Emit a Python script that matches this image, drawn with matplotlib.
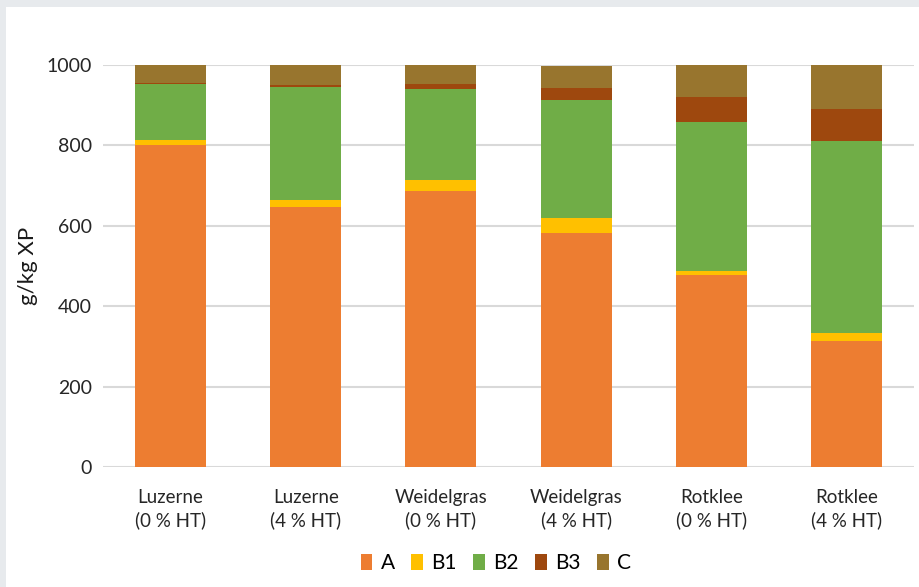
import matplotlib
matplotlib.use('Agg')
from matplotlib import pyplot as plt
from matplotlib.patches import Rectangle
import numpy as np

plt.rcParams['font.family'] = ['Lato', 'DejaVu Sans']

categories = ['Luzerne\n(0 % HT)', 'Luzerne\n(4 % HT)', 'Weidelgras\n(0 % HT)',
              'Weidelgras\n(4 % HT)', 'Rotklee\n(0 % HT)', 'Rotklee\n(4 % HT)']
fractions = ['A', 'B1', 'B2', 'B3', 'C']
a_vals = [800, 647, 687, 582, 477, 313]
b1_vals = [13, 17, 28, 37, 11, 20]
b2_vals = [140, 282, 225, 294, 369, 478]
b3_vals = [3, 4, 13, 31, 64, 79]
c_vals = [44, 50, 47, 54, 79, 110]
colors = ['#ED7D31', '#FFC000', '#70AD47', '#9E480E', '#98752e']

fig = plt.figure(figsize=(9.19, 5.87), dpi=100, facecolor='#e7eaed')
panel = Rectangle((6 / 919, 0), 1, 1 - 7 / 587, transform=fig.transFigure,
                  facecolor='white', edgecolor='none', zorder=-10)
fig.add_artist(panel)
ax = fig.add_axes([103 / 919, 120 / 587, 811 / 919, 402 / 587])
ax.set_facecolor('none')

x = np.arange(len(categories))
bottom = np.zeros(len(categories))
for name, vals, col in zip(fractions, [a_vals, b1_vals, b2_vals, b3_vals, c_vals], colors):
    ax.bar(x, vals, 0.525, bottom=bottom, color=col, label=name, zorder=3)
    bottom += np.array(vals)

ax.set_xlim(-0.5, len(categories) - 0.5)
ax.set_ylim(0, 1000)
ax.set_yticks(range(0, 1001, 200))
ax.yaxis.grid(True, color='#d9d9d9', linewidth=1.5, zorder=0)
ax.set_axisbelow(True)
for s in ax.spines.values():
    s.set_visible(False)
ax.tick_params(length=0, labelsize=14, colors='#262626', pad=8)
ax.tick_params(axis='x', pad=16)
ax.set_xticks(x)
ax.set_xticklabels(categories, fontsize=13.5, linespacing=1.35)
ax.set_ylabel('g/kg XP', fontsize=16, color='#1a1a1a', labelpad=6)

ax.legend(loc='center', bbox_to_anchor=(496 / 919, 24 / 587), bbox_transform=fig.transFigure,
          ncol=5, frameon=False, fontsize=15, handlelength=0.55, handleheight=0.8,
          handletextpad=0.4, columnspacing=0.8)

fig.savefig('out.png', dpi=100, facecolor=fig.get_facecolor())
